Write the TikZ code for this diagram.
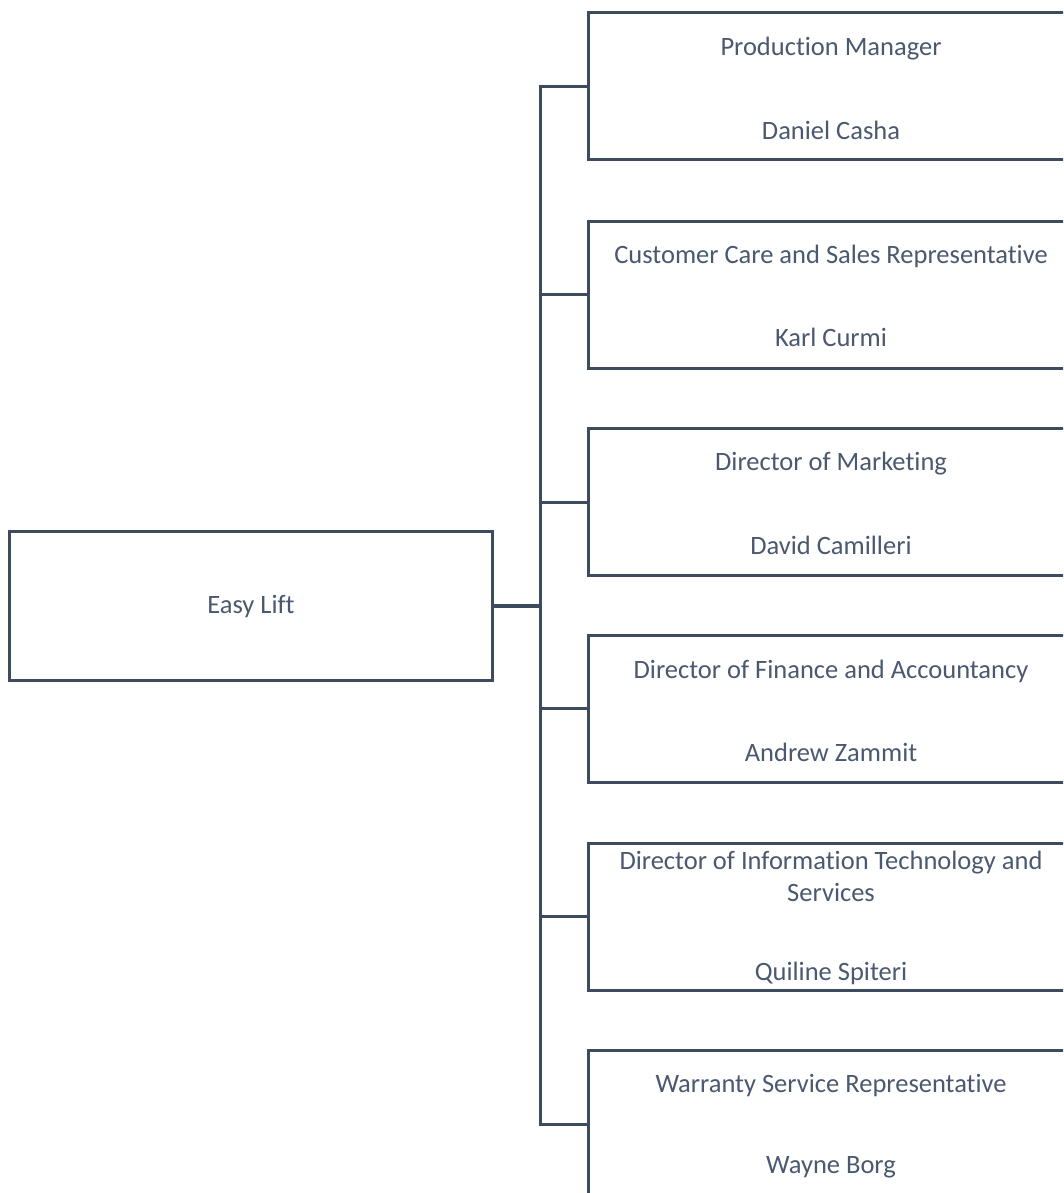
\documentclass[tikz,border=0pt]{standalone}
\usepackage{fontspec}
\setmainfont{Carlito}[Ligatures=NoCommon]
\definecolor{linec}{HTML}{3D4B5E}
\definecolor{textc}{HTML}{4A5870}
\begin{document}
\begin{tikzpicture}[x=1pt,y=-1pt,
  box/.style={draw=linec,line width=3pt,rectangle,minimum width=486pt,minimum height=147pt,inner sep=0pt,fill=white},
  lbl/.style={text=textc,font=\fontsize{26.5}{29}\selectfont,inner sep=0pt,anchor=center,align=center},
  conn/.style={draw=linec,line width=3pt}]
\useasboundingbox (0,0) rectangle (1063,1193);
\clip (0,0) rectangle (1063,1193);
\fill[white] (0,0) rectangle (1063,1193);
% root
\node[box,minimum width=483pt,minimum height=149pt] (root) at (250.5,605.5) {};
\node[lbl] (rootl) at (251,607) {Easy Lift};
% branch boxes
\node[box] (b1) at (831,86.5) {};
\node[box] (b2) at (831,294.5) {};
\node[box] (b3) at (831,502) {};
\node[box] (b4) at (831,708.5) {};
\node[box] (b5) at (831,916.5) {};
\node[box] (b6) at (831,1124) {};
% junction coordinates
\coordinate (j1) at (540,86.5);
\coordinate (j2) at (540,294.5);
\coordinate (j3) at (540,502);
\coordinate (j4) at (540,708.5);
\coordinate (j5) at (540,916.5);
\coordinate (j6) at (540,1124);
\coordinate (jr) at (540,605.5);
% connectors
\draw[conn,line cap=rect] (j1) -- (j6);
\draw[conn,line width=4pt] (root.east) -- (jr);
\draw[conn] (j1) -- (b1.west);
\draw[conn] (j2) -- (b2.west);
\draw[conn] (j3) -- (b3.west);
\draw[conn] (j4) -- (b4.west);
\draw[conn] (j5) -- (b5.west);
\draw[conn] (j6) -- (b6.west);
% labels
\node[lbl] (t1) at (831,49) {Production Manager};
\node[lbl] (n1) at (831,130) {Daniel Casha};
\node[lbl] (t2) at (831,256) {Customer Care and Sales Representative};
\node[lbl] (n2) at (831,337) {Karl Curmi};
\node[lbl] (t3) at (831,464) {Director of Marketing};
\node[lbl] (n3) at (831,545) {David Camilleri};
\node[lbl] (t4) at (831,671) {Director of Finance and Accountancy};
\node[lbl] (n4) at (831,752) {Andrew Zammit};
\node[lbl] (t5a) at (831,863) {Director of Information Technology and};
\node[lbl] (t5b) at (831,892) {Services};
\node[lbl] (n5) at (831,973) {Quiline Spiteri};
\node[lbl] (t6) at (831,1086) {Warranty Service Representative};
\node[lbl] (n6) at (831,1167) {Wayne Borg};
\end{tikzpicture}
\end{document}
